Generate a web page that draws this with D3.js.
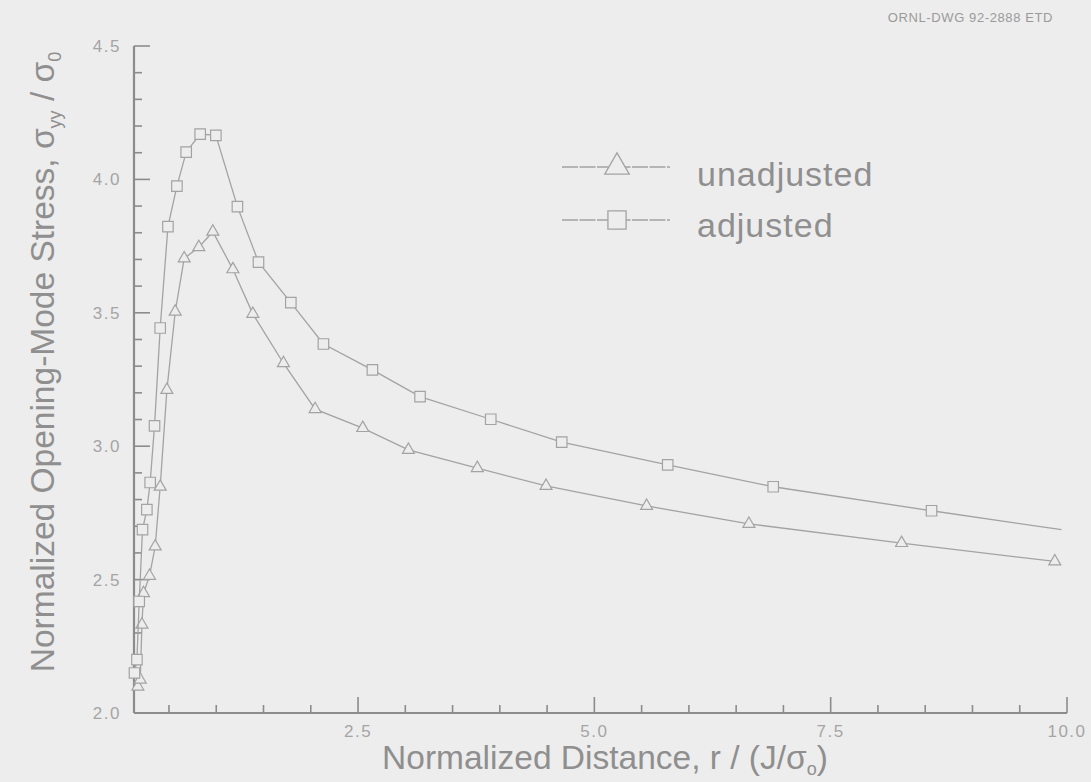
<!DOCTYPE html>
<html>
<head>
<meta charset="utf-8">
<script src="https://cdn.jsdelivr.net/npm/d3@7"></script>
<style>
  html, body { margin: 0; padding: 0; background: #ededed; }
  svg { display: block; }
  text { font-family: "Liberation Sans", Arial, Helvetica, sans-serif; }
</style>
</head>
<body>
<div id="chart"></div>
<script>
// Normalized opening-mode stress vs. normalized distance (ORNL-DWG 92-2888)

const unadjX = [0.171, 0.196, 0.214, 0.231, 0.294, 0.354, 0.407, 0.478, 0.566, 0.661, 0.816, 0.964,
                1.176, 1.387, 1.711, 2.046, 2.550, 3.033, 3.762, 4.489, 5.553, 6.635, 8.250, 9.871];
const unadjY = [2.099, 2.125, 2.331, 2.449, 2.514, 2.624, 2.848, 3.211, 3.504, 3.704, 3.746, 3.804,
                3.663, 3.496, 3.311, 3.139, 3.068, 2.986, 2.918, 2.851, 2.776, 2.709, 2.637, 2.568];

const adjX = [0.135, 0.161, 0.185, 0.220, 0.266, 0.301, 0.347, 0.407, 0.489, 0.584, 0.682, 0.830,
              0.996, 1.224, 1.447, 1.789, 2.134, 2.652, 3.156, 3.904, 4.655, 5.776, 6.892, 8.567, 9.942];
const adjY = [2.150, 2.200, 2.418, 2.687, 2.762, 2.864, 3.076, 3.443, 3.823, 3.975, 4.102, 4.170,
              4.165, 3.898, 3.690, 3.538, 3.383, 3.286, 3.186, 3.101, 3.015, 2.930, 2.848, 2.758, 2.687];

const xTickLabels = ["2.5", "5.0", "7.5", "10.0"];
const yTickLabels = ["2.0", "2.5", "3.0", "3.5", "4.0", "4.5"];
const seriesNames = ["unadjusted", "adjusted"];

const width = 1091, height = 782;
const bg = "#ededed";
const lineCol = "#a3a3a3";
const axisCol = "#8c8c8c";
const textCol = "#8f8f8f";

const svg = d3.select("#chart").append("svg")
    .attr("width", width)
    .attr("height", height);

svg.append("rect").attr("width", width).attr("height", height).attr("fill", bg);

const x = d3.scaleLinear().domain([0.13, 10]).range([134, 1067]);
const y = d3.scaleLinear().domain([2.0, 4.5]).range([713, 46]);

// y axis: ticks point inward every 0.1, longer every 0.5
const yTicks = d3.range(20, 46).map(v => v / 10);
const yAxis = svg.append("g").attr("transform", `translate(${x(0.13)},0)`);
yAxis.append("line")
    .attr("y1", y(2.0)).attr("y2", y(4.5))
    .attr("stroke", axisCol).attr("stroke-width", 2.2);
yAxis.selectAll("line.tick").data(yTicks).enter().append("line")
    .attr("class", "tick")
    .attr("x1", 0)
    .attr("x2", d => Math.round(d * 10) % 5 === 0 ? 16 : 8)
    .attr("y1", d => y(d)).attr("y2", d => y(d))
    .attr("stroke", axisCol).attr("stroke-width", 1.6);
yAxis.selectAll("text").data(yTickLabels).enter().append("text")
    .attr("x", -13)
    .attr("y", d => y(+d) + 6)
    .attr("text-anchor", "end")
    .attr("fill", "#a5a5a5")
    .style("font-size", "17px")
    .style("letter-spacing", "1.5px")
    .text(d => d);

// x axis: ticks point up every 0.5, longer every 2.5
const xTicks = d3.range(1, 21).map(v => v / 2);
const xAxis = svg.append("g").attr("transform", `translate(0,${y(2.0)})`);
xAxis.append("line")
    .attr("x1", x(0.13)).attr("x2", x(10))
    .attr("stroke", axisCol).attr("stroke-width", 2.2);
xAxis.selectAll("line.tick").data(xTicks).enter().append("line")
    .attr("class", "tick")
    .attr("x1", d => x(d)).attr("x2", d => x(d))
    .attr("y1", 0)
    .attr("y2", d => (d % 2.5 === 0) ? -16 : -8)
    .attr("stroke", axisCol).attr("stroke-width", 1.6);
xAxis.selectAll("text").data(xTickLabels).enter().append("text")
    .attr("x", d => x(+d))
    .attr("y", 24)
    .attr("text-anchor", "middle")
    .attr("fill", "#a5a5a5")
    .style("font-size", "17px")
    .style("letter-spacing", "1.5px")
    .text(d => d);

// axis titles
const xTitle = svg.append("text")
    .attr("x", 605).attr("y", 769)
    .attr("text-anchor", "middle")
    .attr("fill", textCol)
    .style("font-size", "33.5px");
xTitle.append("tspan").text("Normalized Distance, r / (J/σ");
xTitle.append("tspan").attr("dy", 6).style("font-size", "18px").text("o");
xTitle.append("tspan").attr("dy", -6).text(")");

const yTitle = svg.append("text")
    .attr("transform", "translate(54,362) rotate(-90)")
    .attr("text-anchor", "middle")
    .attr("fill", textCol)
    .style("font-size", "33.5px");
yTitle.append("tspan").text("Normalized Opening-Mode Stress, σ");
yTitle.append("tspan").attr("dy", 7).style("font-size", "18px").text("yy");
yTitle.append("tspan").attr("dy", -7).text(" / σ");
yTitle.append("tspan").attr("dy", 7).style("font-size", "18px").text("0");

svg.append("text")
    .attr("x", 1053).attr("y", 22)
    .attr("text-anchor", "end")
    .attr("fill", "#9a9a9a")
    .style("font-size", "13px")
    .style("letter-spacing", "0.6px")
    .text("ORNL-DWG 92-2888  ETD");

// series
const line = d3.line().x(d => x(d[0])).y(d => y(d[1]));
const unadj = unadjX.map((v, i) => [v, unadjY[i]]);
const adj = adjX.map((v, i) => [v, adjY[i]]);

const tri = d3.symbol(d3.symbolTriangle, 62);
const sq = d3.symbol(d3.symbolSquare, 110);

[[unadj, tri], [adj, sq]].forEach(([pts, sym], k) => {
    svg.append("path")
        .attr("d", line(pts))
        .attr("fill", "none")
        .attr("stroke", lineCol)
        .attr("stroke-width", 1.3);
    // last adjusted point carries no marker in the source drawing
    const marked = k === 1 ? pts.slice(0, -1) : pts;
    svg.append("g").selectAll("path").data(marked).enter().append("path")
        .attr("transform", d => `translate(${x(d[0])},${y(d[1])})`)
        .attr("d", sym)
        .attr("fill", bg)
        .attr("stroke", lineCol)
        .attr("stroke-width", 1.2);
});

// legend
const legend = svg.append("g");
const legRows = [
    { name: seriesNames[0], sym: d3.symbol(d3.symbolTriangle, 260), y: 167, ty: 186 },
    { name: seriesNames[1], sym: d3.symbol(d3.symbolSquare, 330), y: 220, ty: 237 }
];
legRows.forEach(r => {
    legend.append("line")
        .attr("x1", 562).attr("x2", 670)
        .attr("y1", r.y).attr("y2", r.y)
        .attr("stroke", lineCol).attr("stroke-width", 1.3)
        .attr("stroke-dasharray", "16,1.5");
    legend.append("path")
        .attr("transform", `translate(617,${r.y})`)
        .attr("d", r.sym)
        .attr("fill", bg)
        .attr("stroke", lineCol)
        .attr("stroke-width", 1.3);
    legend.append("text")
        .attr("x", 697).attr("y", r.ty)
        .attr("fill", textCol)
        .style("font-size", "34px")
        .style("letter-spacing", "1px")
        .text(r.name);
});
</script>
</body>
</html>
